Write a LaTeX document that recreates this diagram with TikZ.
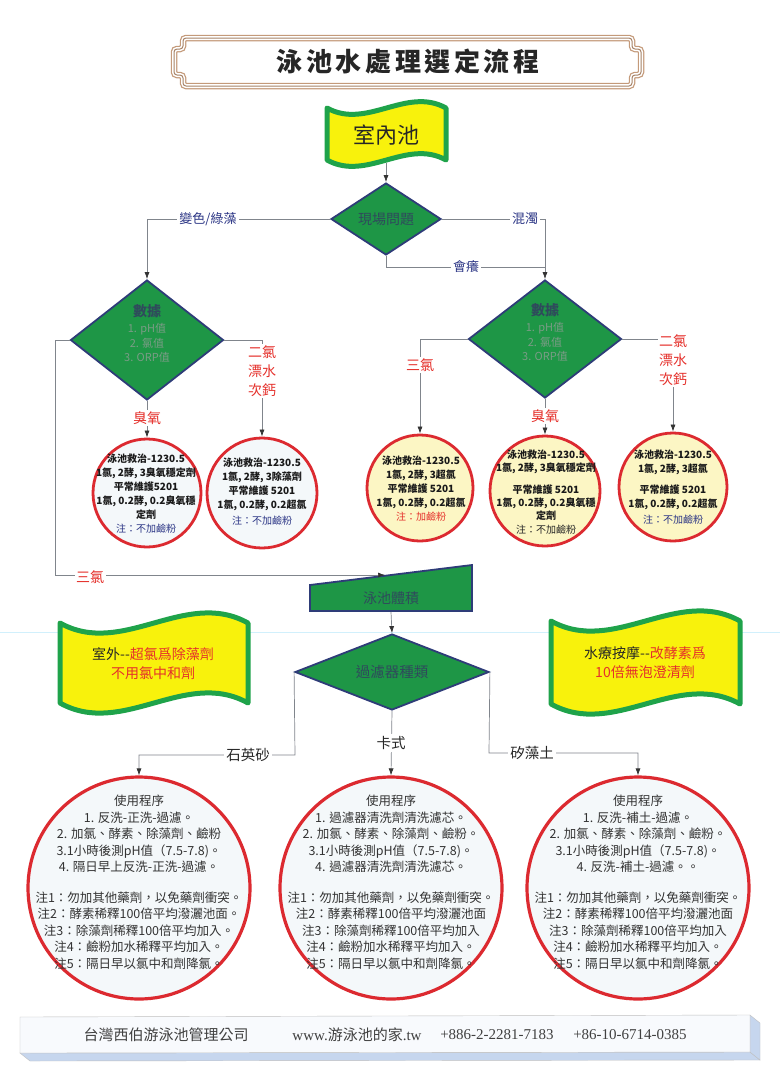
\documentclass[tikz,border=0pt]{standalone}
\usepackage{fontspec}
\setmainfont{Noto Sans CJK TC}
\newfontfamily\serifL{Liberation Serif}
\newfontfamily\titlefont[LetterSpace=14]{Noto Sans CJK TC}
\usetikzlibrary{shapes.geometric,arrows.meta}
\definecolor{dgreen}{HTML}{1E9646}
\definecolor{dnavy}{HTML}{2E3C78}
\definecolor{fgreen}{HTML}{1FA34A}
\definecolor{fyellow}{HTML}{F8F20C}
\definecolor{cred}{HTML}{DC2A30}
\definecolor{lred}{HTML}{E5302B}
\definecolor{lnavy}{HTML}{2B3585}
\definecolor{conngray}{HTML}{80858C}
\definecolor{framebrown}{HTML}{C49A7A}
\definecolor{lyellow}{HTML}{FCF6C4}
\definecolor{lwhite}{HTML}{F4F8FA}
\definecolor{dtext}{HTML}{2F4A5C}
\definecolor{ltext}{HTML}{7A9C86}
\definecolor{footblue}{HTML}{C6D6EE}
\definecolor{footfront}{HTML}{F8FAFD}

\newcommand{\frameP}[1]{\path[#1, rounded corners=3pt] (183,49) -- (183,38) -- (632,38) -- (632,49) -- (641,49) -- (641,75) -- (632,75) -- (632,86) -- (183,86) -- (183,75) -- (174,75) -- (174,49) -- cycle;}
\newcommand{\wavyflag}[5]{\path[flagstyle] (#1,#3) .. controls ({#1+(#2-#1)/3},{#3+#5}) and ({#1+2*(#2-#1)/3},{#3-#5}) .. (#2,#3) -- (#2,#4) .. controls ({#1+2*(#2-#1)/3},{#4-#5}) and ({#1+(#2-#1)/3},{#4+#5}) .. (#1,#4) -- cycle;}

\tikzset{
 conn/.style={draw=conngray, line width=0.7pt},
 arr/.style={-{Latex[length=7pt,width=5pt,color=black!80]}},
 dia/.style={diamond, draw=dnavy, line width=1.8pt, fill=dgreen, inner sep=0pt},
 smallcirc/.style={circle, draw=cred, line width=2.8pt, inner sep=0pt},
 bigcirc/.style={circle, draw=cred, line width=3.2pt, fill=lwhite, inner sep=0pt, minimum size=222pt},
 flagstyle/.style={draw=fgreen, line width=5pt, fill=fyellow, line join=round},
 flagtext/.style={align=center, font=\fontsize{14}{19}\selectfont, text=black!85},
 redlbl/.style={text=lred, fill=white, inner sep=1.5pt, font=\fontsize{14}{19}\selectfont, align=center},
 navylbl/.style={text=lnavy, fill=white, inner sep=2pt, font=\fontsize{13}{15}\selectfont},
 blklbl/.style={text=black!85, fill=white, inner sep=2pt, font=\fontsize{14.5}{16}\selectfont},
 ctext/.style={align=center, font=\fontsize{10}{14}\selectfont\bfseries, text=black!90},
 btext/.style={align=center, font=\fontsize{12.5}{16.5}\selectfont, text=black!80},
 listtext/.style={align=center, font=\fontsize{11}{14.5}\selectfont, text=ltext},
 diatext/.style={font=\fontsize{14}{16}\selectfont, text=dtext},
 foottext/.style={font=\fontsize{15}{17}\selectfont, text=black!75},
}

\begin{document}
\begin{tikzpicture}[x=1pt,y=-1pt]
\useasboundingbox (0,0) rectangle (780,1085);
\fill[white] (0,0) rectangle (780,1085);

% faint scan line
\draw[cyan!18, line width=0.6pt] (0,632) -- (780,632);

% title frame
\frameP{fill=white}
\frameP{draw=framebrown, line width=6.5pt}
\frameP{draw=white, line width=4pt}
\frameP{draw=framebrown!85!black, line width=1pt}
\node[font=\titlefont\fontsize{26}{28}\selectfont\bfseries, text=black!85] (title) at (408,62) {泳池水處理選定流程};

% flags
\wavyflag{327}{446}{108}{160}{22}
\node[font=\fontsize{22}{24}\selectfont, text=black!85] (indoor) at (386,135) {室內池};
\coordinate (indoorbot) at (386,163);

\wavyflag{60}{248}{623}{703}{35}
\node[flagtext] (outdoor) at (153,664) {室外-{}-{\color{lred}超氯爲除藻劑}\\{\color{lred}不用氯中和劑}};
\wavyflag{551}{740}{621}{704}{35}
\node[flagtext] (spa) at (645,663) {水療按摩-{}-{\color{lred}改酵素爲}\\{\color{lred}10倍無泡澄清劑}};

% diamonds
\node[dia, minimum width=110pt, minimum height=72pt] (q) at (386,219) {};
\node[diatext] (qt) at (386,219) {現場問題};

\node[dia, minimum width=153pt, minimum height=120pt] (ld) at (147,340) {};
\node[diatext, font=\fontsize{14}{16}\selectfont\bfseries] (ldt) at (147,311) {數據};
\node[listtext] (ldl) at (147,343) {1. pH值\\2. 氯值\\3. ORP值};

\node[dia, minimum width=153pt, minimum height=118pt] (rd) at (545,339) {};
\node[diatext, font=\fontsize{14}{16}\selectfont\bfseries] (rdt) at (545,310) {數據};
\node[listtext] (rdl) at (545,342) {1. pH值\\2. 氯值\\3. ORP值};

% volume shape
\path[draw=dnavy, line width=1.8pt, fill=dgreen] (310,585) -- (472,565) -- (472,611) -- (310,611) -- cycle;
\node[diatext] (vol) at (391,598) {泳池體積};
\coordinate (volin) at (385,575);
\coordinate (volbot) at (391,612);

\node[dia, minimum width=194pt, minimum height=76pt] (fd) at (392,672) {};
\node[diatext, font=\fontsize{14.5}{16}\selectfont] (fdt) at (392,672) {過濾器種類};

% small circles
\node[smallcirc, fill=lwhite, minimum size=108pt] (cl1) at (147,493) {};
\node[ctext] (cl1t) at (146,494) {泳池救治-1230.5\\1氯, 2酵, 3臭氧穩定劑\\平常維護5201\\1氯, 0.2酵, 0.2臭氧穩\\定劑\\{\mdseries\color{lnavy}注：不加鹼粉}};

\node[smallcirc, fill=lwhite, minimum size=110pt] (cl2) at (262,493) {};
\node[ctext] (cl2t) at (262,492) {泳池救治-1230.5\\1氯, 2酵, 3除藻劑\\平常維護 5201\\1氯, 0.2酵, 0.2超氯\\[2pt]{\mdseries\color{lnavy}注：不加鹼粉}};

\node[smallcirc, fill=lyellow, minimum size=106pt] (cr1) at (420,488) {};
\node[ctext] (cr1t) at (421,489) {泳池救治-1230.5\\1氯, 2酵, 3超氯\\平常維護 5201\\1氯, 0.2酵, 0.2超氯\\{\mdseries\color{lred}注：加鹼粉}};

\node[smallcirc, fill=lyellow, minimum size=110pt] (cr2) at (545,491) {};
\node[ctext, font=\fontsize{10}{13.3}\selectfont\bfseries] (cr2t) at (546,492) {泳池救治-1230.5\\1氯, 2酵, 3臭氧穩定劑\\[8pt]平常維護 5201\\1氯, 0.2酵, 0.2臭氧穩\\定劑\\{\mdseries\color{black!85}注：不加鹼粉}};

\node[smallcirc, fill=lyellow, minimum size=108pt] (cr3) at (673,487) {};
\node[ctext] (cr3t) at (673,487) {泳池救治-1230.5\\1氯, 2酵, 3超氯\\[7pt]平常維護 5201\\1氯, 0.2酵, 0.2超氯\\[2pt]{\mdseries\color{lnavy}注：不加鹼粉}};

% big circles
\node[bigcirc] (b1) at (139,888) {};
\node[btext] (b1t) at (139,882) {使用程序\\1. 反洗-正洗-過濾。\\2. 加氯、酵素、除藻劑、鹼粉\\3.1小時後測pH值（7.5-7.8)。\\4. 隔日早上反洗-正洗-過濾。\\[14pt]注1：勿加其他藥劑，以免藥劑衝突。\\注2：酵素稀釋100倍平均潑灑池面。\\注3：除藻劑稀釋100倍平均加入。\\注4：鹼粉加水稀釋平均加入。\\注5：隔日早以氯中和劑降氯。};

\node[bigcirc] (b2) at (391,888) {};
\node[btext] (b2t) at (391,882) {使用程序\\1. 過濾器清洗劑清洗濾芯。\\2. 加氯、酵素、除藻劑、鹼粉。\\3.1小時後測pH值（7.5-7.8)。\\4. 過濾器清洗劑清洗濾芯。\\[14pt]注1：勿加其他藥劑，以免藥劑衝突。\\注2：酵素稀釋100倍平均潑灑池面\\注3：除藻劑稀釋100倍平均加入\\注4：鹼粉加水稀釋平均加入。\\注5：隔日早以氯中和劑降氯。};

\node[bigcirc] (b3) at (638,888) {};
\node[btext] (b3t) at (638,882) {使用程序\\1. 反洗-補土-過濾。\\2. 加氯、酵素、除藻劑、鹼粉。\\3.1小時後測pH值（7.5-7.8)。\\4. 反洗-補土-過濾。。\\[14pt]注1：勿加其他藥劑，以免藥劑衝突。\\注2：酵素稀釋100倍平均潑灑池面\\注3：除藻劑稀釋100倍平均加入\\注4：鹼粉加水稀釋平均加入。\\注5：隔日早以氯中和劑降氯。};

% connectors
\draw[conn, arr] (indoorbot) -- (q.north);
\draw[conn, arr] (q.west) -- (147,219) -- (ld.north);
\draw[conn, arr] (q.east) -- (545,219) -- (rd.north);
\draw[conn] (q.south) -- (386,267) -- (545,267);
\draw[conn, arr] (ld.west) -- (55,340) -- (55,575) -- (volin);
\draw[conn, arr] (ld.east) -- (262,340) -- (cl2.north);
\draw[conn, arr] (ld.south) -- (cl1.north);
\draw[conn, arr] (rd.west) -- (420,339) -- (cr1.north);
\draw[conn, arr] (rd.south) -- (cr2.north);
\draw[conn, arr] (rd.east) -- (673,339) -- (cr3.north);
\draw[conn, arr] (volbot) -- (fd.north);
\draw[conn, arr] (fd.west) -- (295,755) -- (139,755) -- (b1.north);
\draw[conn, arr] (fd.south) -- (b2.north);
\draw[conn, arr] (fd.east) -- (489,753) -- (638,753) -- (b3.north);

% labels
\node[navylbl] (lbcolor) at (208,219) {變色/綠藻};
\node[navylbl] (lbturbid) at (525,219) {混濁};
\node[navylbl] (lbitch) at (466,267) {會癢};
\node[redlbl] (lbl3a) at (90,577) {三氯};
\node[redlbl] (lbl2a) at (262,371) {二氯\\漂水\\次鈣};
\node[redlbl] (lblOa) at (147,418) {臭氧};
\node[redlbl] (lbl3b) at (420,365) {三氯};
\node[redlbl] (lblOb) at (545,416) {臭氧};
\node[redlbl] (lbl2b) at (673,360) {二氯\\漂水\\次鈣};
\node[blklbl] (lbsand) at (248,755) {石英砂};
\node[blklbl] (lbcart) at (391,743) {卡式};
\node[blklbl] (lbdiat) at (532,753) {矽藻土};

% footer
\path[fill=footblue, draw=black!25, line width=0.4pt] (20,1053) -- (750,1052) -- (760,1060) -- (30,1061) -- cycle;
\path[fill=footblue, draw=black!25, line width=0.4pt] (750,1015) -- (760,1023) -- (760,1060) -- (750,1052) -- cycle;
\path[fill=footfront, draw=black!25, line width=0.4pt] (20,1017) -- (750,1015) -- (750,1052) -- (20,1053) -- cycle;
\node[foottext] (f1) at (166,1035) {台灣西伯游泳池管理公司};
\node[foottext] (f2) at (357,1035) {{\serifL www.}游泳池的家{\serifL .tw}};
\node[foottext] (f3) at (497,1035) {\serifL +886-2-2281-7183};
\node[foottext] (f4) at (630,1035) {\serifL +86-10-6714-0385};
\end{tikzpicture}
\end{document}
